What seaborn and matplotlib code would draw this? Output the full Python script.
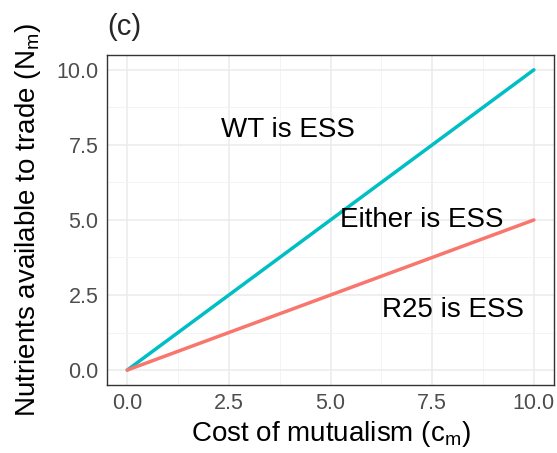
import matplotlib
matplotlib.use("Agg")
import matplotlib.pyplot as plt
from matplotlib.ticker import MultipleLocator
import seaborn as sns
import pandas as pd

cost = [0.0, 10.0]
wt_threshold = [0.0, 10.0]
r25_threshold = [0.0, 5.0]
series_names = ["WT", "R25"]
series_colors = ["#00BFC4", "#F8766D"]
labels = ["WT is ESS", "Either is ESS", "R25 is ESS"]
label_x = [3.95, 7.25, 8.0]
label_y = [8.0, 5.0, 2.0]
ticks = [0.0, 2.5, 5.0, 7.5, 10.0]

sns.set_theme(style="whitegrid")
plt.rcParams["font.family"] = ["Liberation Sans", "DejaVu Sans"]
plt.rcParams["mathtext.default"] = "regular"

df = pd.DataFrame({
    "cost": cost * 2,
    "N": wt_threshold + r25_threshold,
    "series": [series_names[0]] * len(cost) + [series_names[1]] * len(cost),
})

fig = plt.figure(figsize=(5.57, 4.53), dpi=100)
ax = fig.add_axes([0.192, 0.150, 0.803, 0.729])
sns.lineplot(data=df, x="cost", y="N", hue="series", palette=series_colors,
             hue_order=series_names, linewidth=2.5, ax=ax, legend=False, zorder=3)

ax.set_xlim(-0.5, 10.5)
ax.set_ylim(-0.5, 10.5)
ax.set_xticks(ticks)
ax.set_yticks(ticks)
ax.set_xticklabels([f"{t:.1f}" for t in ticks])
ax.set_yticklabels([f"{t:.1f}" for t in ticks])
ax.xaxis.set_minor_locator(MultipleLocator(1.25))
ax.yaxis.set_minor_locator(MultipleLocator(1.25))
ax.grid(which="major", color="#EBEBEB", linewidth=1.1)
ax.grid(which="minor", color="#F2F2F2", linewidth=0.6)
ax.set_facecolor("white")
for s in ax.spines.values():
    s.set_color("#333333")
    s.set_linewidth(1.0)
ax.tick_params(axis="both", which="major", length=4, width=1, color="#333333",
               labelsize=15.5, labelcolor="#4D4D4D", pad=2)
ax.tick_params(which="minor", length=0)

ax.set_xlabel("Cost of mutualism (c$_m$)", fontsize=20, color="black", labelpad=3)
ax.set_ylabel("Nutrients available to trade (N$_m$)", fontsize=20, color="black", labelpad=10)

for t, x, y in zip(labels, label_x, label_y):
    ax.text(x, y, t, fontsize=20, ha="center", va="center", color="black", zorder=4)

ax.set_title("(c)", loc="left", fontsize=21, pad=14)

fig.savefig("out.png", dpi=100)
